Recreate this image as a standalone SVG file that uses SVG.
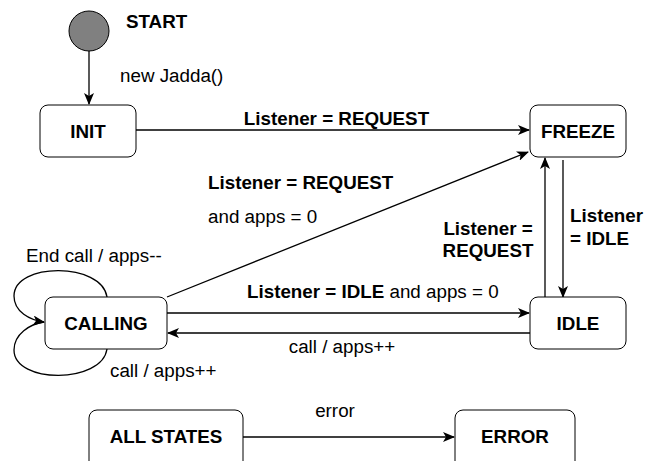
<svg xmlns="http://www.w3.org/2000/svg" width="645" height="461" viewBox="0 0 645 461">
<defs>
<marker id="arr" markerWidth="12" markerHeight="10" refX="11" refY="5" orient="auto" markerUnits="userSpaceOnUse">
<path d="M0,0 L12,5 L0,10 L3,5 z" fill="#000"/>
</marker>
<style>
.box{fill:#fff;stroke:#000;stroke-width:1}
.b{font-family:"Liberation Sans",Arial,sans-serif;font-size:18.8px;font-weight:bold;fill:#000}
.r{font-family:"Liberation Sans",Arial,sans-serif;font-size:18.8px;fill:#000}
.ln{fill:none;stroke:#000;stroke-width:1.3;marker-end:url(#arr)}
.ln2{fill:none;stroke:#000;stroke-width:1.3}
.m{text-anchor:middle}
</style>
</defs>
<rect width="645" height="461" fill="#fff"/>
<g id="connectors">
<line class="ln" x1="89" y1="51" x2="89" y2="104"/>
<line class="ln" x1="136" y1="130" x2="529" y2="130"/>
<line class="ln" x1="167" y1="297" x2="528" y2="152"/>
<line class="ln" x1="563" y1="160" x2="563" y2="297"/>
<line class="ln" x1="545" y1="297" x2="545" y2="158"/>
<line class="ln" x1="167" y1="313" x2="529" y2="313"/>
<line class="ln" x1="530" y1="333" x2="168" y2="333"/>
<line class="ln" x1="243" y1="437" x2="454" y2="437"/>
<path class="ln" d="M107,297 C102,262 14,262 14,296 C14,312 30,320 44,322"/>
<path class="ln2" d="M107,349 C102,384 14,384 14,350 C14,334 30,324 44,322"/>
<text class="b m" x="336.5" y="125">Listener = REQUEST</text>
<text class="b" x="208" y="189">Listener = REQUEST</text>
<text class="r" x="208" y="223">and apps = 0</text>
<text class="b m" x="488" y="235">Listener =</text>
<text class="b m" x="488" y="257">REQUEST</text>
<text class="b" x="570" y="222">Listener</text>
<text class="b" x="570" y="245">= IDLE</text>
<text class="r" x="120" y="82">new Jadda()</text>
<text class="r" x="26" y="262">End call / apps--</text>
<text class="r" x="110" y="377">call / apps++</text>
<text x="247" y="298"><tspan class="b">Listener = IDLE</tspan><tspan class="r"> and apps = 0</tspan></text>
<text class="r m" x="342" y="353">call / apps++</text>
<text class="r m" x="335" y="417">error</text>
</g>
<g id="start">
<circle cx="89" cy="31" r="20" fill="#808080" stroke="#000" stroke-width="1"/>
<text class="b" x="126" y="28">START</text>
</g>
<g id="init">
<rect class="box" x="40" y="105" width="96" height="52" rx="8"/>
<text class="b m" x="88" y="138">INIT</text>
</g>
<g id="freeze">
<rect class="box" x="530" y="105" width="96" height="52" rx="8"/>
<text class="b m" x="578" y="138">FREEZE</text>
</g>
<g id="idle">
<rect class="box" x="530" y="297" width="96" height="52" rx="8"/>
<text class="b m" x="578" y="330">IDLE</text>
</g>
<g id="calling">
<rect class="box" x="45" y="297" width="122" height="52" rx="8"/>
<text class="b m" x="106" y="330">CALLING</text>
</g>
<g id="allstates">
<rect class="box" x="89" y="410" width="154" height="60" rx="8"/>
<text class="b m" x="166" y="443">ALL STATES</text>
</g>
<g id="error">
<rect class="box" x="455" y="410" width="120" height="60" rx="8"/>
<text class="b m" x="515" y="443">ERROR</text>
</g>
</svg>
